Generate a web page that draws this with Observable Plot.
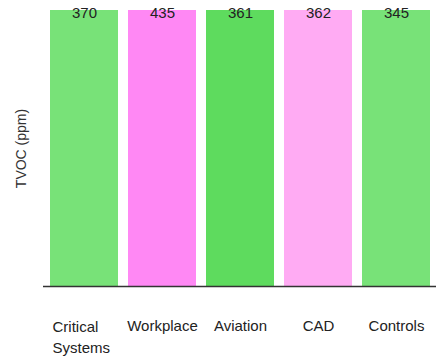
<!DOCTYPE html>
<html>
<head>
<meta charset="utf-8">
<script src="https://cdn.jsdelivr.net/npm/d3@7"></script>
<script src="https://cdn.jsdelivr.net/npm/@observablehq/plot@0.6"></script>
<style>
  html, body { margin: 0; padding: 0; background: #fff; }
  svg { font-family: "Liberation Sans", Arial, sans-serif; }
</style>
</head>
<body>
<div id="chart"></div>
<script>
const categories = ["Critical Systems", "Workplace", "Aviation", "CAD", "Controls"];
const values = [370, 435, 361, 362, 345];
const colors = ["#78e278", "#ff88f4", "#5edb5e", "#ffabf3", "#78e278"];
const yLabel = "TVOC (ppm)";

const data = categories.map((c, i) => ({category: c, value: values[i], color: colors[i]}));

const chart = Plot.plot({
  width: 436,
  height: 361,
  marginTop: 10,
  marginLeft: 43,
  marginRight: 0,
  marginBottom: 75,
  style: {fontSize: "15px", fontFamily: "'Liberation Sans', Arial, sans-serif", color: "#222"},
  x: {domain: categories, padding: 0.13, paddingOuter: 0.06, label: null},
  y: {domain: [0, 340], clamp: true, label: null},
  marks: [
    Plot.barY(data, {x: "category", y: "value", fill: "color"}),
    Plot.text(data, {x: "category", frameAnchor: "top", dy: -3, text: d => String(d.value), fill: "#222", fontSize: 15}),
    Plot.ruleY([0], {stroke: "#333", strokeWidth: 1.5}),
    Plot.axisX({ticks: categories.filter(c => c !== "Critical Systems"), tickSize: 0, tickPadding: 34, fontSize: 15, fill: "#222"}),
    Plot.axisX({ticks: ["Critical Systems"], tickSize: 0, tickPadding: 31, fontSize: 15, lineWidth: 5, lineHeight: 1.4, textAnchor: "start", dx: -32, fill: "#222"}),
    Plot.axisY({ticks: [], label: yLabel, labelAnchor: "center", labelArrow: "none", labelOffset: 27, fontSize: 14, fill: "#333"})
  ]
});
document.getElementById("chart").append(chart);
</script>
</body>
</html>
